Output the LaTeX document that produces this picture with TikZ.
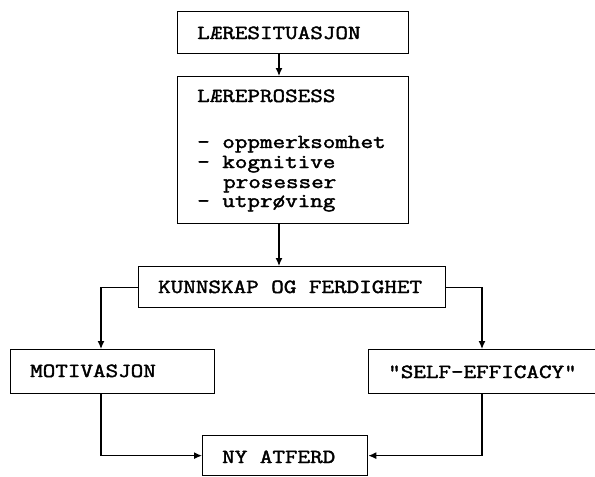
\documentclass[tikz,border=0pt]{standalone}
\usepackage{fontspec}
\newfontfamily\tw{Latin Modern Mono}[FakeStretch=1.22, FakeBold=2]
\usetikzlibrary{arrows.meta}
\begin{document}
\begin{tikzpicture}[x=1pt,y=-1pt,
  box/.style={draw, line width=1.3pt, anchor=north west, inner sep=0pt},
  lbl/.style={anchor=base west, inner sep=0pt, font=\tw\fontsize{20}{20}\selectfont},
  arr/.style={line width=1.3pt, -{Latex[length=8pt,width=7pt]}},
  ln/.style={line width=1.3pt}]
\clip (0,0) rectangle (595,477);
\fill[white] (0,0) rectangle (595,477);
% boxes
\node (sit)  [box, minimum width=231pt, minimum height=42pt] at (177,11) {};
\node (proc) [box, minimum width=231pt, minimum height=147pt] at (177,76) {};
\node (kunn) [box, minimum width=307pt, minimum height=41pt] at (138,266) {};
\node (mot)  [box, minimum width=204pt, minimum height=44pt] at (10,349) {};
\node (self) [box, minimum width=252pt, minimum height=44pt] at (368,349) {};
\node (ny)   [box, minimum width=165pt, minimum height=40pt] at (202,435) {};
% texts
\node (t1) [lbl] at (197,39) {LÆRESITUASJON};
\node (p1) [lbl] at (197,102) {LÆREPROSESS};
\node (p2) [lbl] at (197,148) {- oppmerksomhet};
\node (p3) [lbl] at (197,168) {- kognitive};
\node (p4) [lbl] at (223,188) {prosesser};
\node (p5) [lbl] at (197,207) {- utprøving};
\node (t2) [lbl] at (158,293) {KUNNSKAP OG FERDIGHET};
\node (t3) [lbl] at (30,377) {MOTIVASJON};
\node (t4) [lbl] at (388,378) {"SELF-EFFICACY"};
\node (t5) [lbl] at (222,463) {NY ATFERD};
% guide coordinates
\coordinate (cx) at (279,0);
\coordinate (lx) at (101,0);
\coordinate (rx) at (482,0);
% connectors
\draw[arr] (sit.south -| cx) -- (proc.north -| cx);
\draw[arr] (proc.south -| cx) -- (kunn.north -| cx);
\draw[arr] (kunn.west) -| (mot.north -| lx);
\draw[arr] (kunn.east) -| (self.north -| rx);
\draw[arr] (mot.south -| lx) |- (ny.west);
\draw[arr] (self.south -| rx) |- (ny.east);
\end{tikzpicture}
\end{document}
